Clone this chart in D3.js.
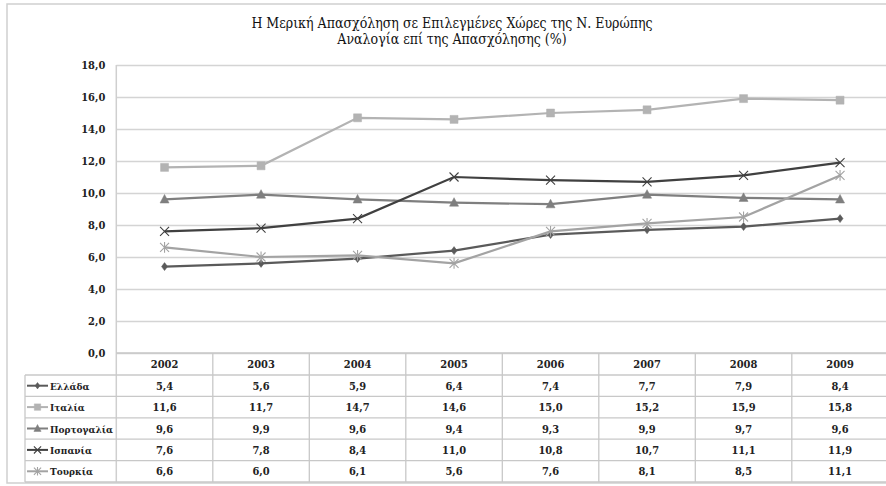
<!DOCTYPE html>
<html><head><meta charset="utf-8">
<script src="https://cdn.jsdelivr.net/npm/d3@7"></script>
<style>
html,body{margin:0;padding:0;background:#fff;overflow:hidden}
svg{display:block}
svg text{font-family:"DejaVu Serif Condensed","DejaVu Serif",serif !important}
</style></head>
<body><svg id="c" width="886" height="486"></svg>
<script>
const years = ["2002","2003","2004","2005","2006","2007","2008","2009"];
const seriesNames = ["Ελλάδα","Ιταλία","Πορτογαλία","Ισπανία","Τουρκία"];
const greece   = [5.4,5.6,5.9,6.4,7.4,7.7,7.9,8.4];
const italy    = [11.6,11.7,14.7,14.6,15.0,15.2,15.9,15.8];
const portugal = [9.6,9.9,9.6,9.4,9.3,9.9,9.7,9.6];
const spain    = [7.6,7.8,8.4,11.0,10.8,10.7,11.1,11.9];
const turkey   = [6.6,6.0,6.1,5.6,7.6,8.1,8.5,11.1];
const yTicks = [0,2,4,6,8,10,12,14,16,18];
const titleLines = ["Η Μερική Απασχόληση σε Επιλεγμένες Χώρες της Ν. Ευρώπης","Αναλογία επί της Απασχόλησης (%)"];

const seriesValues = [greece, italy, portugal, spain, turkey];
const colors = ["#5a5a5a","#b3b3b3","#7f7f7f","#404040","#a3a3a3"];
const markers = ["diamond","square","triangle","x","star"];

const loc = d3.formatLocale({decimal:",",thousands:".",grouping:[3],currency:["","€"]});
const f1 = loc.format(".1f");

const svg = d3.select("#c");
const pLeft = 116.3, pRight = 888.3, pTop = 65, pBottom = 353;
const tableTop = 353, headerBottom = 375, tableBottom = 482, legendLeft = 25;

svg.append("rect").attr("x",7).attr("y",4).attr("width",900).attr("height",479)
  .attr("fill","#fff").attr("stroke","#cfcfcf").attr("stroke-width",1.5);

const t = svg.append("text").attr("text-anchor","middle").attr("font-size",14).attr("fill","#111");
titleLines.forEach((l,i)=>t.append("tspan").attr("x",452).attr("y",28+i*16).text(l));

const x = d3.scaleBand().domain(years).range([pLeft,pRight]);
const y = d3.scaleLinear().domain([0,18]).range([pBottom,pTop]);

const ax = svg.append("g").attr("transform",`translate(${pLeft},0)`)
  .call(d3.axisLeft(y).tickValues(yTicks).tickFormat(f1).tickSize(-(pRight-pLeft)).tickPadding(11));
ax.attr("font-family",null);
ax.select(".domain").remove();
ax.selectAll(".tick line").attr("stroke","#d4d4d4").attr("stroke-width",1.5);
ax.selectAll(".tick text").attr("font-size",11).attr("font-weight","bold").attr("fill","#222");
svg.append("line").attr("x1",pLeft).attr("x2",pLeft).attr("y1",pTop).attr("y2",tableBottom)
  .attr("stroke","#cfcfcf").attr("stroke-width",1.5);

function markerPath(type, s){
  switch(type){
    case "diamond": return `M0,${-s}L${s*0.75},0L0,${s}L${-s*0.75},0Z`;
    case "square": return `M${-s},${-s}H${s}V${s}H${-s}Z`;
    case "triangle": return `M0,${-s*1.1}L${s},${s*0.8}L${-s},${s*0.8}Z`;
    case "x": return `M${-s},${-s}L${s},${s}M${-s},${s}L${s},${-s}`;
    case "star": return `M${-s},${-s}L${s},${s}M${-s},${s}L${s},${-s}M0,${-s*1.2}V${s*1.2}`;
  }
}
const msize = [4,4,4.5,4.5,4.5];
const openM = m => m==="x"||m==="star";

const line = d3.line().x((d,i)=>x(years[i])+x.bandwidth()/2).y(d=>y(d));
seriesValues.forEach((vals,si)=>{
  const g = svg.append("g");
  g.append("path").attr("d",line(vals)).attr("fill","none").attr("stroke",colors[si]).attr("stroke-width",2.2);
  g.selectAll("path.m").data(vals).join("path").attr("class","m")
    .attr("transform",(d,i)=>`translate(${x(years[i])+x.bandwidth()/2},${y(d)})`)
    .attr("d",markerPath(markers[si],msize[si]))
    .attr("fill",openM(markers[si])?"none":colors[si])
    .attr("stroke",colors[si]).attr("stroke-width",openM(markers[si])?1.1:0.5);
});

const rowY = d3.scaleBand().domain(seriesNames).range([headerBottom,tableBottom]);
const tg = svg.append("g");
const gridC = "#c8c8c8";
tg.append("line").attr("x1",pLeft).attr("x2",pRight).attr("y1",tableTop).attr("y2",tableTop).attr("stroke",gridC).attr("stroke-width",1.5);
tg.append("line").attr("x1",legendLeft).attr("x2",pRight).attr("y1",headerBottom).attr("y2",headerBottom).attr("stroke",gridC).attr("stroke-width",1.3);
seriesNames.forEach(n=>{
  const yy = rowY(n)+rowY.bandwidth();
  tg.append("line").attr("x1",legendLeft).attr("x2",pRight).attr("y1",yy).attr("y2",yy).attr("stroke",gridC).attr("stroke-width",1.3);
});
tg.append("line").attr("x1",legendLeft).attr("x2",legendLeft).attr("y1",headerBottom).attr("y2",tableBottom).attr("stroke",gridC).attr("stroke-width",1.3);
years.forEach(yr=>{
  const xr = x(yr)+x.bandwidth();
  tg.append("line").attr("x1",xr).attr("x2",xr).attr("y1",tableTop).attr("y2",tableBottom).attr("stroke",gridC).attr("stroke-width",1.3);
});
tg.selectAll("text.h").data(years).join("text").attr("class","h")
  .attr("x",d=>x(d)+x.bandwidth()/2).attr("y",(tableTop+headerBottom)/2+4)
  .attr("text-anchor","middle").attr("font-size",11).attr("font-weight","bold").attr("fill","#222").text(d=>d);
seriesNames.forEach((n,si)=>{
  const cy = rowY(n)+rowY.bandwidth()/2;
  tg.append("line").attr("x1",27).attr("x2",48).attr("y1",cy).attr("y2",cy).attr("stroke",colors[si]).attr("stroke-width",2);
  tg.append("path").attr("transform",`translate(37.5,${cy})`).attr("d",markerPath(markers[si],msize[si]*0.8))
    .attr("fill",openM(markers[si])?"none":colors[si])
    .attr("stroke",colors[si]).attr("stroke-width",openM(markers[si])?1.1:0.5);
  tg.append("text").attr("x",50).attr("y",cy+4).attr("font-size",10).attr("font-weight","bold").attr("fill","#222").text(n);
  tg.selectAll(null).data(seriesValues[si]).join("text")
    .attr("x",(d,i)=>x(years[i])+x.bandwidth()/2).attr("y",cy+4)
    .attr("text-anchor","middle").attr("font-size",11).attr("font-weight","bold").attr("fill","#222")
    .text(d=>f1(d));
});
</script></body></html>
